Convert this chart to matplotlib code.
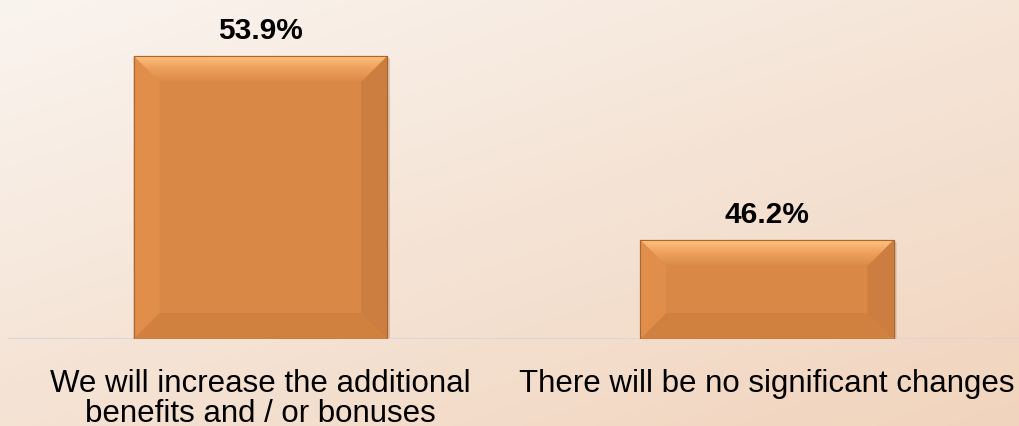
import matplotlib.pyplot as plt
import numpy as np
from matplotlib.patches import Polygon
from matplotlib.colors import LinearSegmentedColormap

plt.rcParams['font.family'] = ['Liberation Sans', 'DejaVu Sans']

categories = ["We will increase the additional\nbenefits and / or bonuses",
              "There will be no significant changes"]
values = [53.9, 46.2]
labels = ["53.9%", "46.2%"]

base = 42.05
top = 56.29

W, H = 1020, 427
fig = plt.figure(figsize=(W / 100, H / 100), dpi=100)

# background gradient, light at top-left to warmer peach at bottom-right
bg = fig.add_axes([0, 0, 1, 1], zorder=0)
bg.axis('off')
yy, xx = np.mgrid[0:1:200j, 0:1:400j]
t = 0.55 * yy + 0.45 * xx
bg_cmap = LinearSegmentedColormap.from_list('bg', ['#faf4ef', '#f5e4d6', '#f1d4bd'])
bg.imshow(t, cmap=bg_cmap, aspect='auto', extent=[0, 1, 0, 1], origin='upper')
bg.set_xlim(0, 1)
bg.set_ylim(0, 1)

ax = fig.add_axes([0, 87 / H, 1, 340 / H], zorder=1)
ax.patch.set_alpha(0)
x = np.arange(len(values))
ax.set_xlim(-0.514, 1.4995)
ax.set_ylim(base, top)

px_x = (1.4995 + 0.514) / W
px_y = (top - base) / 340
bev = 26

bars = ax.bar(x, [v - base for v in values], bottom=base, width=0.5,
              color='#d98845', edgecolor='#a9652e', linewidth=0.8, zorder=3)

top_cmap = LinearSegmentedColormap.from_list('tb', ['#da8a47', '#eda05c', '#ffc27e'])
for b in bars:
    x0, y0 = b.get_x(), b.get_y()
    x1, y1 = x0 + b.get_width(), y0 + b.get_height()
    dx, dy = bev * px_x, bev * px_y
    # soft shadow on the right
    ax.add_patch(Polygon([(x1, y0), (x1 + 3 * px_x, y0), (x1 + 3 * px_x, y1 - 3 * px_y), (x1, y1)],
                         closed=True, color='#b08060', alpha=0.35, lw=0, zorder=2))
    left = Polygon([(x0, y0), (x0 + dx, y0 + dy), (x0 + dx, y1 - dy), (x0, y1)],
                   closed=True, color='#e18e4b', lw=0, zorder=4)
    right = Polygon([(x1, y0), (x1 - dx, y0 + dy), (x1 - dx, y1 - dy), (x1, y1)],
                    closed=True, color='#cb7e3f', lw=0, zorder=4)
    bottom = Polygon([(x0, y0), (x1, y0), (x1 - dx, y0 + dy), (x0 + dx, y0 + dy)],
                     closed=True, color='#d08140', lw=0, zorder=4)
    topp = Polygon([(x0, y1), (x1, y1), (x1 - dx, y1 - dy), (x0 + dx, y1 - dy)],
                   closed=True, color='none', lw=0, zorder=4)
    for p in (left, right, bottom, topp):
        ax.add_patch(p)
    grad = np.linspace(0, 1, 64).reshape(-1, 1)
    im = ax.imshow(grad, cmap=top_cmap, aspect='auto', extent=[x0, x1, y1 - dy, y1],
                   origin='lower', zorder=4)
    im.set_clip_path(topp)
    ax.add_patch(Polygon([(x0, y0), (x1, y0), (x1, y1), (x0, y1)], closed=True,
                         fill=False, ec='#a9652e', lw=0.8, zorder=5))

ax.set_xlim(-0.514, 1.4995)
ax.set_ylim(base, top)

for xi, v, lab in zip(x, values, labels):
    ax.text(xi, v + 12 * px_y, lab, ha='center', va='bottom', fontsize=21.5,
            fontweight='bold', color='#000000', zorder=6)

ax.axhline(base, xmin=9 / W, xmax=1, color='#d6d6d6', lw=2, zorder=2)

ax.set_xticks(x)
ax.set_xticklabels(categories, fontsize=22.5, linespacing=0.98)
ax.tick_params(axis='x', length=0, pad=21)
ax.set_yticks([])
for s in ax.spines.values():
    s.set_visible(False)

fig.savefig('out.png', dpi=100)
